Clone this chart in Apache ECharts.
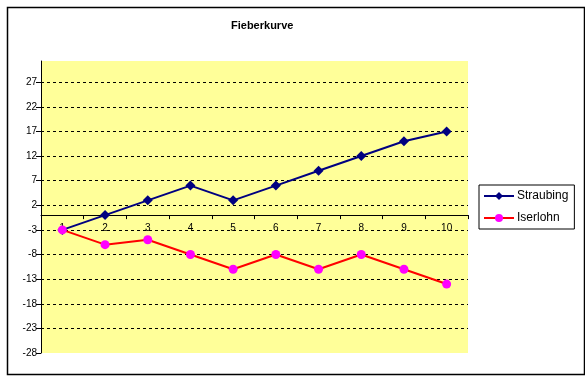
<!DOCTYPE html>
<html>
<head>
<meta charset="utf-8">
<script src="https://cdn.jsdelivr.net/npm/echarts@6/dist/echarts.min.js"></script>
<style>
html,body{margin:0;padding:0;background:#fff;}
#c{width:585px;height:378px;}
</style>
</head>
<body>
<div id="c"></div>
<script>
const categories = ['1','2','3','4','5','6','7','8','9','10'];
const straubing = [-3, 0, 3, 6, 3, 6, 9, 12, 15, 17];
const iserlohn = [-3, -6, -5, -8, -11, -8, -11, -8, -11, -14];
const yMin = -28, yMax = 31.3, yStep = 5;

const chart = echarts.init(document.getElementById('c'), null, {renderer: 'canvas'});
const font = 'Liberation Sans, Arial, sans-serif';
const gridBottom = 25, H = 378;
chart.setOption({
  animation: false,
  backgroundColor: '#ffffff',
  graphic: [{
    type: 'rect', left: 5, top: 5, z: -10,
    shape: {width: 577, height: 367},
    style: {fill: 'none', stroke: '#000', lineWidth: 1.5}
  }],
  title: {
    text: 'Fieberkurve', left: 226, top: 15,
    textStyle: {fontFamily: font, fontSize: 11, fontWeight: 'bold', color: '#000'}
  },
  legend: {
    orient: 'vertical', left: 479, top: 185,
    padding: [5, 6, 5, 4],
    itemGap: 10, itemWidth: 30, itemHeight: 10,
    borderColor: '#000', borderWidth: 1, backgroundColor: '#fff',
    textStyle: {fontFamily: font, fontSize: 12, color: '#000', padding: [0,0,0,-2]},
    data: ['Straubing', 'Iserlohn']
  },
  grid: {left: 41, right: 117, top: 61, bottom: gridBottom, show: true, backgroundColor: '#FFFF99', borderWidth: 0},
  xAxis: {
    type: 'category', data: categories, boundaryGap: true,
    axisLine: {onZero: false, lineStyle: {color: '#000', width: 1}},
    axisTick: {show: true, inside: false, length: 4, lineStyle: {color: '#000'}},
    axisLabel: {fontFamily: font, fontSize: 10, color: '#000', margin: 8},
    splitLine: {show: false},
    z: 1
  },
  yAxis: {
    type: 'value', min: yMin, max: yMax, interval: yStep,
    axisLine: {show: true, onZero: false, lineStyle: {color: '#000', width: 1}},
    axisTick: {show: true, length: 5, lineStyle: {color: '#000'}},
    axisLabel: {fontFamily: font, fontSize: 10, color: '#000', margin: 4, showMaxLabel: false,
      formatter: v => (Math.abs(v - yMax) < 0.01 ? '' : v)},
    splitLine: {show: true, showMinLine: false, showMaxLine: false, lineStyle: {color: '#000', type: [3, 3], width: 1}}
  },
  series: [
    {
      name: 'Straubing', type: 'line', data: straubing, z: 3,
      symbol: 'diamond', symbolSize: 10,
      lineStyle: {color: '#000080', width: 2},
      itemStyle: {color: '#000080'}
    },
    {
      name: 'Iserlohn', type: 'line', data: iserlohn, z: 3,
      symbol: 'circle', symbolSize: 9,
      lineStyle: {color: '#FF0000', width: 2},
      itemStyle: {color: '#FF00FF'}
    }
  ]
});
// move the category axis (line, ticks, labels) to the zero line of the value axis
const zeroPx = chart.convertToPixel({yAxisIndex: 0}, 0);
chart.setOption({xAxis: {offset: -((H - gridBottom) - zeroPx)}});
</script>
</body>
</html>
